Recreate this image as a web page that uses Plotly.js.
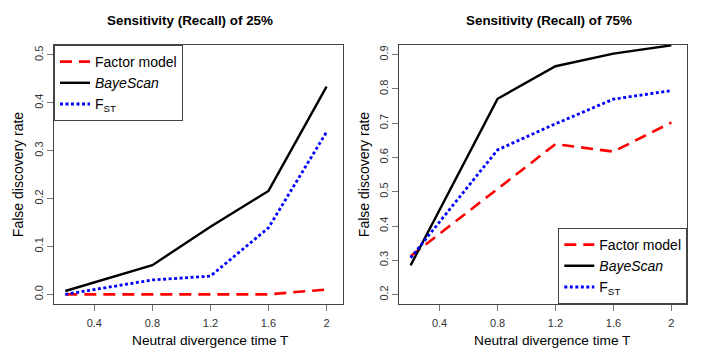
<!DOCTYPE html>
<html>
<head>
<meta charset="utf-8">
<script src="https://cdn.plot.ly/plotly-3.0.1.min.js"></script>
<style>html,body{margin:0;padding:0;background:#fff}#chart{width:715px;height:359px}</style>
</head>
<body>
<div id="chart"></div>
<script>
// Data
var divergenceT = [0.2, 0.8, 1.2, 1.6, 2.0];
var xTickVals = [0.4, 0.8, 1.2, 1.6, 2.0];
var xTickText = ["0.4", "0.8", "1.2", "1.6", "2"];
var seriesNames = ["Factor model", "<i>BayeScan</i>", "F<sub>ST</sub>"];
var panelTitles = ["Sensitivity (Recall) of 25%", "Sensitivity (Recall) of 75%"];
var xTitle = "Neutral divergence time T";
var yTitle = "False discovery rate";

// Sensitivity 25%
var factor25 = [0.000, 0.000, 0.000, 0.000, 0.010];
var bayescan25 = [0.007, 0.061, 0.141, 0.216, 0.434];
var fst25 = [0.000, 0.030, 0.038, 0.139, 0.339];
var yTicks25 = [0.0, 0.1, 0.2, 0.3, 0.4, 0.5];

// Sensitivity 75%
var factor75 = [0.312, 0.507, 0.639, 0.617, 0.702];
var bayescan75 = [0.285, 0.771, 0.866, 0.903, 0.927];
var fst75 = [0.307, 0.622, 0.698, 0.770, 0.795];
var yTicks75 = [0.2, 0.3, 0.4, 0.5, 0.6, 0.7, 0.8, 0.9];

var styles = [
  {color: "#ff0000", dash: "12px,7px", width: 2.6},
  {color: "#000000", dash: "solid", width: 2.4},
  {color: "#0000ff", dash: "3px,2.5px", width: 2.8}
];

function mk(y, i, xa, ya, leg) {
  return {x: divergenceT, y: y, type: "scatter", mode: "lines", name: seriesNames[i],
    line: {color: styles[i].color, dash: styles[i].dash, width: styles[i].width},
    xaxis: xa, yaxis: ya, legend: leg, cliponaxis: true};
}

var traces = [
  mk(factor25, 0, "x", "y", "legend"),
  mk(bayescan25, 1, "x", "y", "legend"),
  mk(fst25, 2, "x", "y", "legend"),
  mk(factor75, 0, "x2", "y2", "legend2"),
  mk(bayescan75, 1, "x2", "y2", "legend2"),
  mk(fst75, 2, "x2", "y2", "legend2")
];

var W = 715, H = 359;
var FAM = "Liberation Sans, Arial, sans-serif";
var tickFont = {family: FAM, size: 11, color: "#333"};
var titleFont = {family: FAM, size: 14, color: "#000"};

function xax(domain) {
  return {domain: domain, range: [0.122, 2.11], tickvals: xTickVals, ticktext: xTickText,
    showgrid: false, zeroline: false, showline: true, mirror: true, linecolor: "#444", linewidth: 1,
    ticks: "outside", ticklen: 6, tickcolor: "#777", tickfont: tickFont, ticklabelstandoff: 3};
}
function yax(domain, range, tv, anchor) {
  return {domain: domain, range: range, tickvals: tv, ticktext: tv.map(function(v){return v.toFixed(1);}),
    showgrid: false, zeroline: false, showline: true, mirror: true, linecolor: "#444", linewidth: 1,
    ticks: "outside", ticklen: 6, tickcolor: "#777", tickfont: tickFont, tickangle: -90,
    anchor: anchor,
    title: {text: yTitle, font: titleFont, standoff: 5}};
}

function ann(text, cx, cy, size) {
  return {text: text, x: cx / W, y: (H - cy) / H, xref: "paper", yref: "paper",
    showarrow: false, xanchor: "center", yanchor: "middle",
    font: {family: FAM, size: size, color: "#000"}};
}

var yDom = [(H - 304) / H, (H - 45) / H];
var layout = {
  width: W, height: H,
  margin: {l: 0, r: 0, t: 0, b: 0},
  paper_bgcolor: "#fff", plot_bgcolor: "#fff",
  showlegend: true,
  xaxis: xax([54 / W, 342.5 / W]),
  yaxis: yax(yDom, [-0.0202, 0.5208], yTicks25, "x"),
  xaxis2: Object.assign(xax([399.3 / W, 687.3 / W]), {anchor: "y2"}),
  yaxis2: yax(yDom, [0.1725, 0.928], yTicks75, "x2"),
  legend: {x: 54 / W, y: (H - 45) / H, xanchor: "left", yanchor: "top",
    bgcolor: "#fff", bordercolor: "#444", borderwidth: 1,
    font: {family: FAM, size: 14, color: "#000"},
    tracegroupgap: 0, itemwidth: 30},
  legend2: {x: 687.3 / W, y: (H - 304) / H, xanchor: "right", yanchor: "bottom",
    bgcolor: "#fff", bordercolor: "#444", borderwidth: 1,
    font: {family: FAM, size: 14, color: "#000"},
    tracegroupgap: 0, itemwidth: 30},
  annotations: [
    ann("<b>" + panelTitles[0] + "</b>", 189.5, 20, 13.4),
    ann("<b>" + panelTitles[1] + "</b>", 549, 20, 13.4),
    ann(xTitle, 210, 340, 13.7),
    ann(xTitle, 552, 340, 13.7)
  ]
};

Plotly.newPlot("chart", traces, layout, {displayModeBar: false, staticPlot: true});
</script>
</body>
</html>
